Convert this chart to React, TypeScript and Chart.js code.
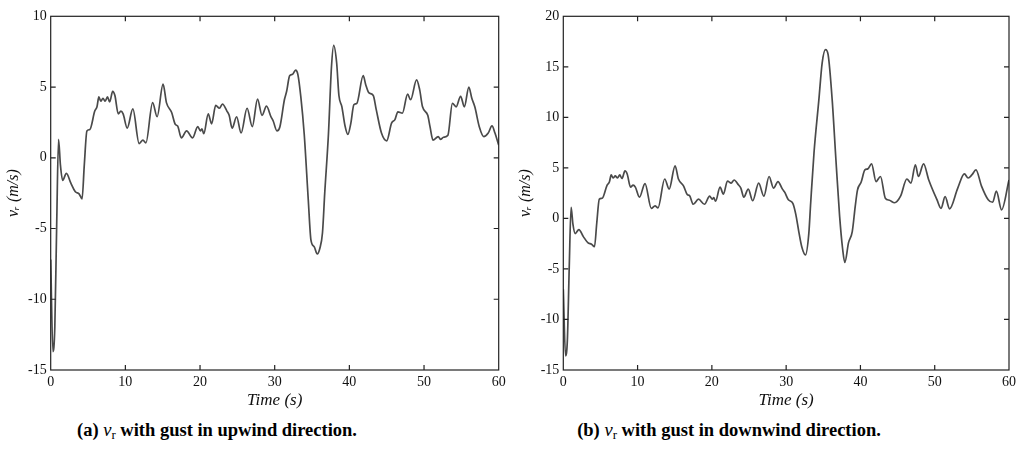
import React, { useEffect, useRef } from "react";
import { Chart, registerables } from "chart.js";

Chart.register(...registerables);

// ---- data ----
const timeUpwind = [
  0, 0.3, 0.55, 0.8, 1.05, 1.3, 1.6, 2.1, 2.7, 3.3,
  3.8, 4.2, 4.5, 4.85, 5.25, 5.9, 6.2, 6.45, 6.7, 7.0,
  7.3, 7.6, 7.9, 8.3, 8.6, 9.05, 9.4, 9.7, 10.25, 11.0,
  11.85, 12.35, 12.75, 13.65, 14.25, 15.05, 15.5, 16.2, 16.7, 17.0,
  17.5, 18.2, 19.0, 19.7, 20.05, 20.25, 20.5, 21.1, 21.55, 22.1,
  22.6, 23.0, 23.6, 23.9, 24.3, 24.9, 25.5, 26.3, 27.0, 27.7,
  28.3, 28.9, 29.5, 29.8, 30.3, 30.7, 31.3, 31.6, 32.0, 32.4,
  32.8, 33.1, 33.5, 33.95, 34.5, 34.85, 35.3, 35.7, 36.05, 36.4,
  36.7, 37.2, 37.6, 37.9, 38.3, 38.6, 39.0, 39.4, 39.8, 40.2,
  40.6, 41.0, 41.85, 42.2, 42.6, 43.2, 43.6, 44.3, 45.0, 45.65,
  46.1, 46.5, 47.1, 47.8, 48.2, 49.0, 49.4, 49.8, 50.5, 50.8,
  51.2, 51.9, 52.2, 52.6, 53.2, 53.8, 54.3, 54.9, 55.4, 56.0,
  56.4, 56.8, 57.4, 58.0, 58.6, 59.1, 59.5, 60.0,
];
const speedUpwind = [
  -7.2, -13.7, -12.0, -4.8, 1.3, -0.5, -1.6, -1.1, -1.8, -2.4,
  -2.55, -2.9, -0.5, 1.9, 2.0, 3.3, 3.6, 4.3, 4.0, 4.2,
  4.0, 4.3, 3.95, 4.7, 4.4, 3.1, 3.3, 3.1, 2.1, 3.45,
  1.0, 1.25, 1.05, 3.9, 2.9, 5.2, 3.9, 3.2, 2.35, 2.25,
  1.4, 1.9, 1.4, 2.2, 1.9, 2.05, 1.7, 3.1, 2.4, 3.7,
  3.5, 3.8, 3.3, 3.0, 2.1, 2.9, 1.75, 3.5, 2.2, 4.15,
  3.0, 3.65, 2.9, 2.6, 1.9, 2.2, 4.1, 4.7, 5.8, 5.9,
  6.2, 5.9, 4.3, 1.7, -3.0, -5.8, -6.3, -6.8, -6.4, -5.3,
  -2.5, 1.7, 6.4, 7.95, 6.7, 4.4, 3.6, 2.3, 1.65, 2.45,
  3.75, 3.85, 5.8, 5.15, 4.6, 4.4, 3.4, 1.75, 1.2, 2.45,
  2.7, 3.25, 3.15, 4.5, 4.1, 5.5, 4.85, 3.6, 3.0, 2.2,
  1.25, 1.5, 1.3, 1.45, 1.6, 3.85, 3.6, 4.35, 3.6, 5.0,
  4.2, 3.6, 2.2, 1.5, 1.75, 2.25, 1.75, 0.9,
];

const timeDownwind = [
  0, 0.3, 0.55, 0.8, 1.05, 1.3, 1.6, 2.1, 2.7, 3.3,
  3.8, 4.2, 4.5, 4.85, 5.25, 5.9, 6.2, 6.45, 6.7, 7.0,
  7.3, 7.6, 7.9, 8.3, 8.6, 9.05, 9.4, 9.7, 10.25, 11.0,
  11.85, 12.35, 12.75, 13.65, 14.25, 15.05, 15.5, 16.2, 16.7, 17.0,
  17.5, 18.2, 19.0, 19.7, 20.05, 20.25, 20.5, 21.1, 21.55, 22.1,
  22.6, 23.0, 23.6, 23.9, 24.3, 24.9, 25.5, 26.3, 27.0, 27.7,
  28.3, 28.9, 29.5, 29.8, 30.3, 30.9, 31.3, 31.7, 32.1, 32.6,
  33.05, 33.3, 33.75, 34.4, 34.85, 35.3, 35.65, 36.2, 36.7, 37.2,
  37.6, 37.9, 38.4, 38.9, 39.3, 39.6, 40.1, 40.6, 41.0, 41.5,
  42.1, 42.7, 43.35, 43.9, 44.6, 45.4, 46.25, 46.8, 47.4, 47.8,
  48.5, 49.2, 50.3, 50.85, 51.4, 52.0, 53.1, 54.0, 54.5, 55.0,
  55.55, 56.3, 57.2, 57.8, 58.3, 59.0, 60.0,
];
const speedDownwind = [
  -7.0, -13.6, -12.0, -4.8, 1.1, -0.6, -1.5, -1.1, -1.8, -2.4,
  -2.55, -2.8, -0.5, 1.9, 2.0, 3.3, 3.6, 4.3, 4.0, 4.2,
  4.0, 4.3, 3.95, 4.7, 4.4, 3.1, 3.3, 3.1, 2.1, 3.45,
  1.0, 1.25, 1.05, 3.9, 2.9, 5.2, 3.9, 3.2, 2.35, 2.25,
  1.4, 1.9, 1.4, 2.2, 1.9, 2.05, 1.7, 3.1, 2.4, 3.7,
  3.5, 3.8, 3.3, 3.0, 2.1, 2.9, 1.75, 3.5, 2.2, 4.15,
  3.0, 3.65, 2.9, 2.6, 1.85, 1.5, 0.4, -1.3, -2.8, -3.6,
  -1.5, 1.5, 6.5, 11.7, 15.4, 16.7, 16.2, 11.7, 5.8, 0.2,
  -3.0, -4.35, -2.4, -1.3, 1.2, 2.8, 3.6, 4.8, 4.9, 5.4,
  3.65, 4.15, 2.0, 1.8, 1.55, 2.2, 3.9, 3.5, 5.3, 4.15,
  5.4, 3.8, 1.85, 1.0, 2.15, 0.95, 3.0, 4.4, 4.0, 4.3,
  4.8, 3.2, 1.85, 1.6, 2.7, 0.85, 3.8,
];

const timeTicks = [0, 10, 20, 30, 40, 50, 60];
const speedTicksUpwind = [-15, -10, -5, 0, 5, 10];
const speedTicksDownwind = [-15, -10, -5, 0, 5, 10, 15, 20];

const captionUpwind = "with gust in upwind direction.";
const captionDownwind = "with gust in downwind direction.";
const xTitle = "Time (s)";
const yTitle = "vᵣ (m/s)";

const FONT = "'Liberation Serif', 'Times New Roman', serif";
const LINE = "#4a4a4a";
const AXIS = "#222222";

const framePlugin = {
  id: "frameTicks",
  afterDraw(chart: any) {
    const { ctx, chartArea, scales } = chart;
    const { left, right, top, bottom } = chartArea;
    const xs = scales.x;
    const ys = scales.y;
    const len = 5;
    ctx.save();
    ctx.strokeStyle = AXIS;
    ctx.lineWidth = 1.2;
    ctx.strokeRect(left, top, right - left, bottom - top);
    ctx.beginPath();
    xs.ticks.forEach((t: any) => {
      const px = xs.getPixelForValue(t.value);
      if (Math.abs(px - left) < 1 || Math.abs(px - right) < 1) return;
      ctx.moveTo(px, bottom);
      ctx.lineTo(px, bottom - len);
      ctx.moveTo(px, top);
      ctx.lineTo(px, top + len);
    });
    ys.ticks.forEach((t: any) => {
      const py = ys.getPixelForValue(t.value);
      if (Math.abs(py - top) < 1 || Math.abs(py - bottom) < 1) return;
      ctx.moveTo(left, py);
      ctx.lineTo(left + len, py);
      ctx.moveTo(right, py);
      ctx.lineTo(right - len, py);
    });
    ctx.stroke();
    ctx.restore();
  },
};

type Props = {
  times: number[];
  values: number[];
  yTicks: number[];
  canvasLeft: number;
  axisWidth: number;
  padRight: number;
  yTitlePad: number;
};

function VrChart({ times, values, yTicks, canvasLeft, axisWidth, padRight, yTitlePad }: Props) {
  const ref = useRef<HTMLCanvasElement>(null);
  useEffect(() => {
    const points = times.map((t, i) => ({ x: t, y: values[i] }));
    const chart = new Chart(ref.current as HTMLCanvasElement, {
      type: "line",
      data: {
        datasets: [
          {
            data: points,
            borderColor: LINE,
            borderWidth: 1.7,
            pointRadius: 0,
            fill: false,
            cubicInterpolationMode: "monotone",
          } as any,
        ],
      },
      options: {
        animation: false,
        responsive: false,
        maintainAspectRatio: false,
        layout: { padding: { top: 16.3, right: padRight, left: 0, bottom: 0 } },
        plugins: { legend: { display: false }, tooltip: { enabled: false } },
        scales: {
          x: {
            type: "linear",
            min: timeTicks[0],
            max: timeTicks[timeTicks.length - 1],
            afterBuildTicks: (s: any) => {
              s.ticks = timeTicks.map((v) => ({ value: v }));
            },
            afterFit: (s: any) => {
              s.height = 45;
            },
            grid: { display: false, drawTicks: false },
            border: { display: false },
            ticks: {
              font: { family: FONT, size: 14 },
              color: "#111",
              padding: 4,
              maxRotation: 0,
              autoSkip: false,
            },
            title: {
              display: true,
              text: xTitle,
              font: { family: FONT, size: 17, style: "italic" },
              color: "#111",
              padding: { top: 0, bottom: 4 },
            },
          },
          y: {
            type: "linear",
            min: yTicks[0],
            max: yTicks[yTicks.length - 1],
            afterBuildTicks: (s: any) => {
              s.ticks = yTicks.map((v) => ({ value: v }));
            },
            afterFit: (s: any) => {
              s.width = axisWidth;
            },
            grid: { display: false, drawTicks: false },
            border: { display: false },
            ticks: {
              font: { family: FONT, size: 14 },
              color: "#111",
              padding: 4,
              autoSkip: false,
            },
            title: {
              display: true,
              text: yTitle,
              font: { family: FONT, size: 16, style: "italic" },
              color: "#111",
              padding: { top: yTitlePad, bottom: 0 },
            },
          },
        },
      },
      plugins: [framePlugin],
    });
    return () => chart.destroy();
  }, []);
  return (
    <canvas
      ref={ref}
      width={510}
      height={415}
      style={{ position: "absolute", left: canvasLeft, top: 0, width: 510, height: 415 }}
    />
  );
}

function Caption({ label, text, center }: { label: string; text: string; center: number }) {
  return (
    <div
      style={{
        position: "absolute",
        left: center - 250,
        width: 500,
        top: 418,
        lineHeight: "24px",
        textAlign: "center",
        fontFamily: FONT,
        fontWeight: "bold",
        fontSize: 18.5,
        color: "#000",
        whiteSpace: "nowrap",
      }}
    >
      {label}{" "}
      <span style={{ fontStyle: "italic", fontWeight: "normal" }}>v</span>
      <sub style={{ fontWeight: "normal", fontSize: "0.7em", verticalAlign: "-0.25em" }}>r</sub>{" "}
      {text}
    </div>
  );
}

export default function App() {
  return (
    <div
      style={{
        position: "fixed",
        left: 0,
        top: 0,
        width: 1020,
        height: 453,
        background: "#fff",
        overflow: "hidden",
      }}
    >
      <VrChart
        times={timeUpwind}
        values={speedUpwind}
        yTicks={speedTicksUpwind}
        canvasLeft={0}
        axisWidth={50.7}
        padRight={11.3}
        yTitlePad={3.8}
      />
      <VrChart
        times={timeDownwind}
        values={speedDownwind}
        yTicks={speedTicksDownwind}
        canvasLeft={510}
        axisWidth={53.3}
        padRight={9}
        yTitlePad={6.4}
      />
      <Caption label="(a)" text={captionUpwind} center={217} />
      <Caption label="(b)" text={captionDownwind} center={729} />
    </div>
  );
}
